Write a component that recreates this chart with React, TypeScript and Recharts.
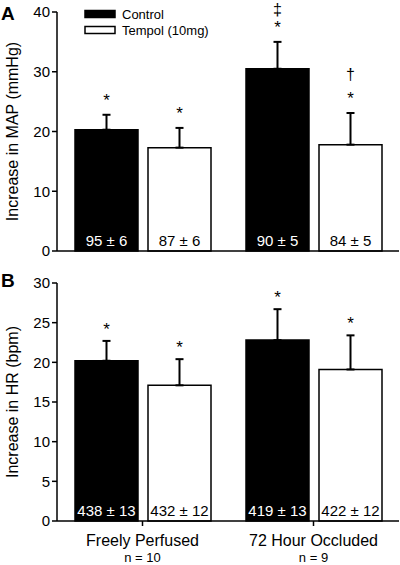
import React from 'react';
import { BarChart, Bar, XAxis, YAxis, ErrorBar, LabelList, Label, Legend } from 'recharts';

const FONT = 'Arial, "Liberation Sans", Helvetica, sans-serif';

// ---- data ----
const groups = ['Freely Perfused', '72 Hour Occluded'];
const groupN = ['n = 10', 'n = 9'];
const seriesNames = ['Control', 'Tempol (10mg)'];

// Panel A: Increase in MAP (mmHg)
const mapControl = [20.3, 30.5];
const mapControlSem = [2.5, 4.5];
const mapTempol = [17.3, 17.8];
const mapTempolSem = [3.3, 5.3];
const mapControlBase = ['95 ± 6', '90 ± 5'];
const mapTempolBase = ['87 ± 6', '84 ± 5'];
const mapControlMarks = [['*'], ['*', '‡']];
const mapTempolMarks = [['*'], ['*', '†']];
const mapTicks = [0, 10, 20, 30, 40];

// Panel B: Increase in HR (bpm)
const hrControl = [20.2, 22.8];
const hrControlSem = [2.5, 3.9];
const hrTempol = [17.1, 19.1];
const hrTempolSem = [3.3, 4.3];
const hrControlBase = ['438 ± 13', '419 ± 13'];
const hrTempolBase = ['432 ± 12', '422 ± 12'];
const hrControlMarks = [['*'], ['*']];
const hrTempolMarks = [['*'], ['*']];
const hrTicks = [0, 5, 10, 15, 20, 25, 30];

const mapData = groups.map((g, i) => ({
  group: g,
  control: mapControl[i],
  controlErr: [0, mapControlSem[i]],
  tempol: mapTempol[i],
  tempolErr: [0, mapTempolSem[i]],
}));

const hrData = groups.map((g, i) => ({
  group: g,
  control: hrControl[i],
  controlErr: [0, hrControlSem[i]],
  tempol: hrTempol[i],
  tempolErr: [0, hrTempolSem[i]],
}));

// extra lift of a symbol stacked above the asterisk
const markLift: Record<string, number> = { '‡': 18, '†': 24 };

// ---- renderers ----
const getBox = (props: any) => {
  const vb = props.viewBox && props.viewBox.width !== undefined ? props.viewBox : props;
  return {
    x: Number(vb.x),
    y: Number(vb.y),
    w: Number(vb.width),
    h: Number(vb.height),
  };
};

const getIndex = (props: any, values: number[]) => {
  if (typeof props.index === 'number') return props.index;
  return values.indexOf(Number(props.value));
};

const makeMarks = (values: number[], marks: string[][], sem: number[], gap: number) => (props: any) => {
  const { x, y, w, h } = getBox(props);
  const idx = getIndex(props, values);
  if (idx < 0) return null;
  const ppu = h / values[idx];
  const errTop = y - sem[idx] * ppu;
  const cx = x + w / 2;
  return (
    <g>
      {marks[idx].map((m, j) => (
        <text
          key={j}
          x={cx}
          y={j === 0 ? errTop - gap : errTop - gap - (markLift[m] ?? 20)}
          textAnchor="middle"
          fontSize={j === 0 ? 17 : 16}
          fontFamily={FONT}
          fill="#000"
        >
          {m}
        </text>
      ))}
    </g>
  );
};

const makeBase = (values: number[], texts: string[], color: string) => (props: any) => {
  const { x, y, w, h } = getBox(props);
  const idx = getIndex(props, values);
  if (idx < 0) return null;
  return (
    <text
      x={x + w / 2}
      y={y + h - 5}
      textAnchor="middle"
      fontSize={15}
      fontFamily={FONT}
      fill={color}
    >
      {texts[idx]}
    </text>
  );
};

const makeTitle = (title: string, letter: string, letterY: number) => (props: any) => {
  const vb = props.viewBox || { y: 0, height: 0 };
  const cy = Number(vb.y) + Number(vb.height) / 2;
  return (
    <g>
      <text
        transform={`translate(18, ${cy}) rotate(-90)`}
        textAnchor="middle"
        fontSize={16}
        fontFamily={FONT}
        fill="#000"
      >
        {title}
      </text>
      <text x={1} y={letterY} fontSize={19} fontWeight="bold" fontFamily={FONT} fill="#000">
        {letter}
      </text>
    </g>
  );
};

const GroupTick = (props: any) => {
  const { x, y, payload } = props;
  const i = groups.indexOf(payload.value);
  return (
    <g>
      <text x={x} y={y + 18} textAnchor="middle" fontSize={16} fontFamily={FONT} fill="#000">
        {payload.value}
      </text>
      <text x={x} y={y + 34} textAnchor="middle" fontSize={13} fontFamily={FONT} fill="#000">
        {groupN[i]}
      </text>
    </g>
  );
};

const LegendContent = () => (
  <svg width={180} height={40} style={{ display: 'block' }}>
    {seriesNames.map((name, i) => (
      <g key={name}>
        <rect
          x={1}
          y={10.5 + i * 16}
          width={30}
          height={7}
          fill={i === 0 ? '#000' : '#fff'}
          stroke="#000"
          strokeWidth={1.5}
        />
        <text x={38} y={18.5 + i * 16} fontSize={13} fontFamily={FONT} fill="#000">
          {name}
        </text>
      </g>
    ))}
  </svg>
);

const tickStyle = { fill: '#000', fontSize: 15, fontFamily: FONT };
const axisLine = { stroke: '#000', strokeWidth: 1.5 };

export default function App() {
  return (
    <div style={{ position: 'absolute', left: 0, top: 0, width: 400, height: 565, background: '#fff' }}>
      <div style={{ position: 'absolute', left: 0, top: 0 }}>
        <BarChart
          width={400}
          height={260}
          data={mapData}
          margin={{ top: 12, right: 1, left: 0, bottom: 8 }}
          barSize={63}
          barGap={10}
        >
          <XAxis dataKey="group" height={1} tick={false} tickLine={false} axisLine={axisLine} />
          <YAxis
            width={57}
            domain={[0, 40]}
            ticks={mapTicks}
            tick={tickStyle}
            tickSize={5}
            tickMargin={2}
            axisLine={axisLine}
            tickLine={{ stroke: '#000', strokeWidth: 1.5 }}
          >
            <Label content={makeTitle('Increase in MAP (mmHg)', 'A', 20)} />
          </YAxis>
          <Legend
            layout="horizontal"
            verticalAlign="middle"
            align="center"
            content={LegendContent}
            wrapperStyle={{ position: 'absolute', left: 84, top: 0, width: 180, height: 40 }}
          />
          <Bar dataKey="control" name={seriesNames[0]} fill="#000" stroke="#000" strokeWidth={1.5} isAnimationActive={false}>
            <ErrorBar dataKey="controlErr" width={4} stroke="#000" strokeWidth={2} direction="y" />
            <LabelList dataKey="control" content={makeBase(mapControl, mapControlBase, '#fff')} />
            <LabelList dataKey="control" content={makeMarks(mapControl, mapControlMarks, mapControlSem, 9)} />
          </Bar>
          <Bar dataKey="tempol" name={seriesNames[1]} fill="#fff" stroke="#000" strokeWidth={1.5} isAnimationActive={false}>
            <ErrorBar dataKey="tempolErr" width={4} stroke="#000" strokeWidth={2} direction="y" />
            <LabelList dataKey="tempol" content={makeBase(mapTempol, mapTempolBase, '#000')} />
            <LabelList dataKey="tempol" content={makeMarks(mapTempol, mapTempolMarks, mapTempolSem, 9)} />
          </Bar>
        </BarChart>
      </div>
      <div style={{ position: 'absolute', left: 0, top: 262 }}>
        <BarChart
          width={400}
          height={303}
          data={hrData}
          margin={{ top: 21, right: 1, left: 0, bottom: 0 }}
          barSize={63}
          barGap={10}
        >
          <XAxis
            dataKey="group"
            height={44}
            tick={<GroupTick />}
            tickSize={5}
            tickMargin={2}
            axisLine={axisLine}
            tickLine={{ stroke: '#000', strokeWidth: 1.5 }}
            interval={0}
          />
          <YAxis
            width={57}
            domain={[0, 30]}
            ticks={hrTicks}
            tick={tickStyle}
            tickSize={5}
            tickMargin={2}
            axisLine={axisLine}
            tickLine={{ stroke: '#000', strokeWidth: 1.5 }}
          >
            <Label content={makeTitle('Increase in HR (bpm)', 'B', 25)} />
          </YAxis>
          <Bar dataKey="control" name={seriesNames[0]} fill="#000" stroke="#000" strokeWidth={1.5} isAnimationActive={false}>
            <ErrorBar dataKey="controlErr" width={4} stroke="#000" strokeWidth={2} direction="y" />
            <LabelList dataKey="control" content={makeBase(hrControl, hrControlBase, '#fff')} />
            <LabelList dataKey="control" content={makeMarks(hrControl, hrControlMarks, hrControlSem, 6)} />
          </Bar>
          <Bar dataKey="tempol" name={seriesNames[1]} fill="#fff" stroke="#000" strokeWidth={1.5} isAnimationActive={false}>
            <ErrorBar dataKey="tempolErr" width={4} stroke="#000" strokeWidth={2} direction="y" />
            <LabelList dataKey="tempol" content={makeBase(hrTempol, hrTempolBase, '#000')} />
            <LabelList dataKey="tempol" content={makeMarks(hrTempol, hrTempolMarks, hrTempolSem, 6)} />
          </Bar>
        </BarChart>
      </div>
    </div>
  );
}
